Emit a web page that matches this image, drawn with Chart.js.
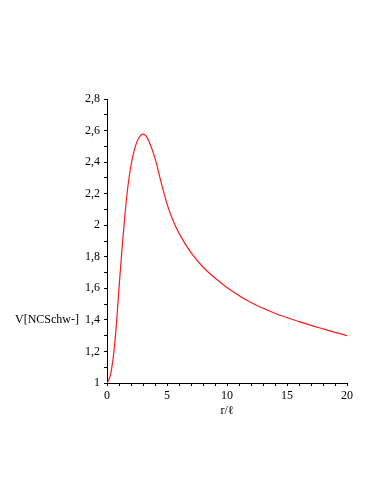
<!DOCTYPE html>
<html>
<head>
<meta charset="utf-8">
<script src="https://cdn.jsdelivr.net/npm/chart.js@4/dist/chart.umd.min.js"></script>
<style>
  html, body { margin: 0; padding: 0; background: #fff; }
  #plot { display: block; }
</style>
</head>
<body>
<canvas id="plot" width="382" height="494"></canvas>
<script>
// curve: r/l -> V
const rValues = [0, 0.25, 0.5, 0.75, 1.0, 1.25, 1.5, 1.75, 2.0, 2.25, 2.5, 2.75, 3.0, 3.25, 3.5, 4.0, 4.5, 5.0, 5.5, 6.0, 7.0, 8.0, 9.0, 10.0, 12.0, 14.0, 16.0, 18.0, 20.0];
const vValues = [1.0, 1.04, 1.15, 1.34, 1.60, 1.85, 2.07, 2.25, 2.38, 2.47, 2.53, 2.565, 2.578, 2.566, 2.53, 2.425, 2.275, 2.135, 2.03, 1.95, 1.826, 1.735, 1.665, 1.606, 1.51, 1.442, 1.389, 1.343, 1.30];

const xTickValues = [0, 5, 10, 15, 20];
const xTickLabels = ["0", "5", "10", "15", "20"];
const yTickValues = [1, 1.2, 1.4, 1.6, 1.8, 2, 2.2, 2.4, 2.6, 2.8];
const yTickLabels = ["1", "1,2", "1,4", "1,6", "1,8", "2", "2,2", "2,4", "2,6", "2,8"];

const xTitle = "r/\u2113";
const yTitle = "V[NCSchw-]";

const serif = "'Liberation Serif', 'DejaVu Serif', serif";

function labelFor(v, vals, labels) {
  const i = vals.findIndex(t => Math.abs(t - v) < 1e-6);
  return i >= 0 ? labels[i] : "";
}

// horizontal y title on the left, level with 1,4
const yTitlePlugin = {
  id: "yTitle",
  afterDraw(chart) {
    const ctx = chart.ctx;
    const y = chart.scales.y.getPixelForValue(1.4);
    ctx.save();
    ctx.font = "12px " + serif;
    ctx.fillStyle = "#000";
    ctx.textAlign = "right";
    ctx.textBaseline = "middle";
    ctx.fillText(yTitle, 79, y);
    ctx.restore();
  }
};

const axisGrid = {
  display: true,
  drawOnChartArea: false,
  drawTicks: true,
  tickLength: 3,
  color: "#000",
  lineWidth: 1
};

new Chart(document.getElementById("plot"), {
  type: "scatter",
  data: {
    datasets: [{
      data: rValues.map((r, i) => ({ x: r, y: vValues[i] })),
      showLine: true,
      borderColor: "#ff1a1a",
      borderWidth: 1.2,
      pointRadius: 0,
      cubicInterpolationMode: "monotone",
      fill: false
    }]
  },
  options: {
    responsive: false,
    animation: false,
    layout: { padding: { left: 70, top: 99, right: 35, bottom: 71 } },
    plugins: { legend: { display: false }, tooltip: { enabled: false } },
    scales: {
      x: {
        type: "linear",
        min: 0,
        max: 20,
        grid: axisGrid,
        border: { display: true, color: "#000", width: 1 },
        ticks: {
          stepSize: 1,
          autoSkip: false,
          maxRotation: 0,
          padding: 3,
          color: "#000",
          font: { family: serif, size: 12 },
          callback: v => labelFor(v, xTickValues, xTickLabels)
        },
        title: {
          display: true,
          text: xTitle,
          color: "#000",
          font: { family: serif, size: 12 },
          padding: { top: 0, bottom: 5 }
        },
        afterFit: s => { s.height = 40; }
      },
      y: {
        type: "linear",
        min: 1,
        max: 2.8,
        grid: axisGrid,
        border: { display: true, color: "#000", width: 1 },
        ticks: {
          stepSize: 0.1,
          autoSkip: false,
          padding: 4,
          color: "#000",
          font: { family: serif, size: 12 },
          callback: v => labelFor(v, yTickValues, yTickLabels)
        },
        afterFit: s => { s.width = 37; }
      }
    }
  },
  plugins: [yTitlePlugin]
});
</script>
</body>
</html>
